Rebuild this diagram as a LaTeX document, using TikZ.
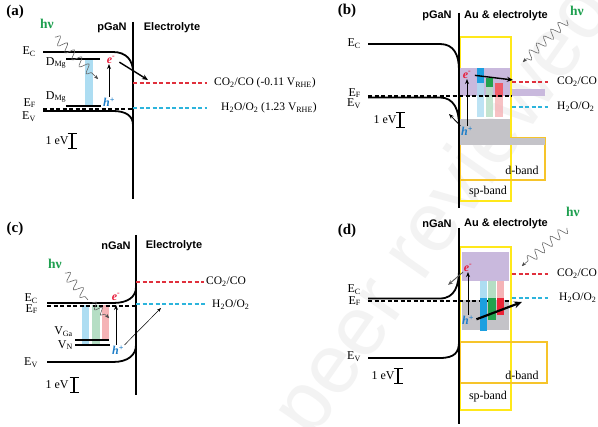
\documentclass[tikz,border=0pt]{standalone}
\usepackage{fontspec}
\setmainfont{Liberation Serif}
\setsansfont{Liberation Sans}
\usetikzlibrary{arrows.meta,decorations.pathmorphing}
\definecolor{redl}{HTML}{E0303C}
\definecolor{cyanl}{HTML}{2CB4DC}
\definecolor{ered}{HTML}{E81E3C}
\definecolor{hblue}{HTML}{1E7EC8}
\definecolor{hvgreen}{HTML}{1FA050}
\definecolor{pblue}{HTML}{ADDDF2}
\definecolor{pgreen}{HTML}{B5DEC4}
\definecolor{pred}{HTML}{F5B3B6}
\definecolor{sblue}{HTML}{1C9FE0}
\definecolor{sgreen}{HTML}{22A24E}
\definecolor{sred}{HTML}{EC2436}
\definecolor{purp}{HTML}{C9B9DD}
\definecolor{grayb}{HTML}{C4C3C8}
\definecolor{spyel}{HTML}{FFE81A}
\definecolor{dyel}{HTML}{F6C42A}
\definecolor{wm}{HTML}{F3F3F3}
\begin{document}
\begin{tikzpicture}[x=1pt,y=-1pt,
  band/.style={line width=1.8pt},
  iface/.style={line width=1.4pt},
  lvl/.style={line width=1.1pt},
  efdash/.style={line width=1.4pt, dash pattern=on 4pt off 2.5pt},
  redox/.style={line width=1.2pt, dash pattern=on 4pt off 2.5pt},
  lbl/.style={font=\fontsize{12}{13}\selectfont, inner sep=0pt},
  rdx/.style={font=\fontsize{11.5}{13}\selectfont, inner sep=0pt, anchor=west},
  ttl/.style={font=\sffamily\bfseries\fontsize{11}{13}\selectfont, inner sep=0pt},
  pnl/.style={font=\bfseries\fontsize{15}{16}\selectfont, inner sep=0pt},
  hv/.style={font=\bfseries\fontsize{13.5}{14}\selectfont, text=hvgreen, inner sep=0pt},
  elec/.style={font=\bfseries\itshape\fontsize{12}{13}\selectfont, text=ered, inner sep=0.5pt},
  hole/.style={font=\bfseries\itshape\fontsize{12}{13}\selectfont, text=hblue, inner sep=0.5pt},
  photon/.style={draw=black!60, line width=0.6pt, decorate, decoration={snake, amplitude=4.5pt, segment length=10pt, post length=4pt}},
  parr/.style={-{Stealth[length=4pt,width=3.5pt]}},
  arr/.style={-{Stealth[length=5pt,width=4pt]}, line width=1pt},
  midarr/.style={-{Stealth[length=6pt,width=5pt]}, line width=1.4pt},
  thickarr/.style={-{Stealth[length=8pt,width=7pt]}, line width=2.2pt},
  thinarr/.style={-{Stealth[length=4pt,width=3pt]}, line width=0.5pt},
  scalebar/.style={{Bar[width=9pt]}-{Bar[width=9pt]}, line width=1.3pt},
  spbox/.style={draw=spyel, line width=1.5pt},
  dbox/.style={draw=dyel, line width=1.5pt}
]
\useasboundingbox (0,0) rectangle (598,427);
\fill[white] (0,0) rectangle (598,427);
% watermark
\node[rotate=55, text=wm, font=\sffamily\fontsize{84}{86}\selectfont, inner sep=0pt] (wmk) at (446,212) {peer reviewed};

%================ (a) =================
\node[pnl] (pa) at (15,12) {(a)};
\node[hv] (hva) at (47,24) {hν};
\node[ttl] (tpa) at (112,28) {pGaN};
\node[ttl] (tea) at (172,28) {Electrolyte};
\fill[pblue] (85,59) rectangle (93,106);
\draw[lvl] (66,59) -- (100,59);
\draw[lvl] (66,106) -- (101,106);
\node[lbl] (dmg1) at (56,63) {D\textsubscript{Mg}};
\node[lbl] (dmg2) at (56,97) {D\textsubscript{Mg}};
\draw[band] (43,52) -- (113,52) .. controls (126,52) and (133,60) .. (133,72);
\draw[band] (43,111) -- (113,111) .. controls (126,111) and (133,116) .. (133,125);
\draw[efdash] (43,109) -- (133,109);
\draw[iface] (133,22) -- (133,199);
\draw[redox, redl] (133,83) -- (207,83);
\draw[redox, cyanl] (133,108) -- (207,108);
\node[rdx] (co2a) at (214,83) {CO\textsubscript{2}/CO (-0.11 V\textsubscript{RHE})};
\node[rdx] (h2oa) at (221,108) {H\textsubscript{2}O/O\textsubscript{2} (1.23 V\textsubscript{RHE})};
\node[lbl, anchor=east] (eca) at (36,52) {E\textsubscript{C}};
\node[lbl, anchor=east] (efa) at (36,103) {E\textsubscript{F}};
\node[lbl, anchor=east] (eva) at (36,117) {E\textsubscript{V}};
\node[elec] (ea) at (111,60) {e\textsuperscript{-}};
\node[hole] (ha) at (109,102) {h\textsuperscript{+}};
\draw[arr] (ha.north) -- (ha.north |- ea.south);
\coordinate (taa) at (148,80);
\draw[midarr, shorten <=4pt] (ea.east) -- (taa);
\coordinate (pha1) at (55,37);
\coordinate (pha2) at (98,79);
\draw[photon] (pha1) -- (pha2);
\draw[parr, draw=black!70] ([shift={(-1,-1)}]pha2) -- (pha2);
\node[lbl] (sca) at (57,141) {1 eV};
\draw[scalebar] (72,133) -- (72,149);

%================ (b) =================
\node[pnl] (pb) at (347,11) {(b)};
\node[hv] (hvb) at (577,11) {hν};
\node[ttl] (tpb) at (437,16) {pGaN};
\node[ttl] (teb) at (506,16) {Au \& electrolyte};
\draw[spbox] (460,37) rectangle (511,201);
\draw[dbox] (460,138) rectangle (545,180);
\fill[purp] (460,68) rectangle (510,96);
\fill[purp] (512,89) rectangle (545,96);
\fill[grayb] (460,119) rectangle (510,145);
\fill[grayb] (460,138) rectangle (545,145);
\fill[pblue, opacity=0.8] (477,83) rectangle (484,117);
\fill[sblue] (477,68) rectangle (484,83);
\fill[pgreen, opacity=0.8] (486,87) rectangle (493,117);
\fill[sgreen] (486,78) rectangle (493,87);
\fill[pred, opacity=0.8] (495,97) rectangle (503,117);
\fill[sred!60!pred] (495,83) rectangle (503,97);
\node[lbl] (dbb) at (522,170) {d-band};
\node[lbl] (spb) at (488,192) {sp-band};
\draw[band] (368,44) -- (440,44) .. controls (454,44) and (459,55) .. (459,70);
\draw[band] (368,97.5) -- (440,97.5) .. controls (454,97.5) and (459,110) .. (459,125);
\draw[efdash] (368,96) -- (512,96);
\draw[iface] (459,13) -- (459,208);
\draw[redox, redl] (512,82) -- (548,82);
\draw[redox, cyanl] (512,107) -- (548,107);
\node[rdx] (co2b) at (557,82) {CO\textsubscript{2}/CO};
\node[rdx] (h2ob) at (557,107) {H\textsubscript{2}O/O\textsubscript{2}};
\node[lbl, anchor=east] (ecb) at (361,44) {E\textsubscript{C}};
\node[lbl, anchor=east] (efb) at (361,93) {E\textsubscript{F}};
\node[lbl, anchor=east] (evb) at (361,104) {E\textsubscript{V}};
\node[elec] (eb) at (467,75) {e\textsuperscript{-}};
\node[hole] (hb) at (467,131) {h\textsuperscript{+}};
\draw[arr] (hb.north) -- (hb.north |- eb.south);
\coordinate (tbb) at (513,80);
\draw[midarr, shorten <=3pt] (eb.east) -- (tbb);
\coordinate (tbh) at (449,114);
\draw[arr, line width=0.8pt] (hb.north west) -- (tbh);
\coordinate (phb1) at (567,20);
\coordinate (phb2) at (523,62);
\draw[photon] (phb1) -- (phb2);
\draw[parr, draw=black!70] ([shift={(1,-1)}]phb2) -- (phb2);
\node[lbl] (scb) at (385,120) {1 eV};
\draw[scalebar] (400,112) -- (400,128);

%================ (c) =================
\node[pnl] (pc) at (15,229) {(c)};
\node[hv] (hvc) at (55,264) {hν};
\node[ttl] (tnc) at (116,246) {nGaN};
\node[ttl] (tec) at (174,246) {Electrolyte};
\fill[pblue] (82,305) rectangle (89,345);
\fill[pgreen] (92,305) rectangle (100,345);
\fill[pred] (102,305) rectangle (109,340);
\draw[lvl] (75,340) -- (109,340);
\draw[lvl] (75,345) -- (110,345);
\node[lbl, anchor=east] (vga) at (73,332) {V\textsubscript{Ga}};
\node[lbl, anchor=east] (vn) at (73,345) {V\textsubscript{N}};
\draw[band] (47,303) -- (113,303) .. controls (128,303) and (136,297) .. (136,287);
\draw[band] (47,362) -- (113,362) .. controls (128,362) and (136,355) .. (136,345);
\draw[efdash] (47,306) -- (136,306);
\draw[iface] (136,235) -- (136,395);
\draw[redox, redl] (136,282) -- (204,282);
\draw[redox, cyanl] (136,304) -- (205,304);
\node[rdx] (co2c) at (206,282) {CO\textsubscript{2}/CO};
\node[rdx] (h2oc) at (212,305) {H\textsubscript{2}O/O\textsubscript{2}};
\node[lbl, anchor=east] (ecc) at (38,299) {E\textsubscript{C}};
\node[lbl, anchor=east] (efc) at (38,309) {E\textsubscript{F}};
\node[lbl, anchor=east] (evc) at (38,363) {E\textsubscript{V}};
\node[elec] (ec) at (116,297) {e\textsuperscript{-}};
\node[hole] (hc) at (118,350) {h\textsuperscript{+}};
\coordinate (tcv) at (116,305);
\draw[arr] (hc.north -| tcv) -- (tcv);
\coordinate (tch) at (161,308);
\draw[thinarr] (hc.north east) -- (tch);
\coordinate (phc1) at (65,273);
\coordinate (phc2) at (88,300);
\draw[photon] (phc1) -- (phc2);
\coordinate (phc3) at (92,303);
\coordinate (phc4) at (109,318);
\draw[photon, decoration={snake, amplitude=3.5pt, segment length=8pt, post length=3pt}] (phc3) -- (phc4);
\draw[parr, draw=black!70] ([shift={(-1,-1)}]phc4) -- (phc4);
\node[lbl] (scc) at (57,385) {1 eV};
\draw[scalebar] (74,377) -- (74,393);

%================ (d) =================
\node[pnl] (pd) at (347,231) {(d)};
\node[hv] (hvd) at (573,212) {hν};
\node[ttl] (tnd) at (437,224) {nGaN};
\node[ttl] (ted) at (506,224) {Au \& electrolyte};
\draw[spbox] (460,247) rectangle (511,410);
\draw[dbox] (460,342) rectangle (547,383);
\fill[purp] (462,252) rectangle (509,281);
\fill[grayb] (462,300) rectangle (509,330);
\draw[efdash] (368,301) -- (510,301);
\fill[pblue] (480,281) rectangle (487,298);
\fill[sblue] (480,298) rectangle (487,331);
\fill[pgreen] (488,281) rectangle (496,298);
\fill[sgreen] (488,298) rectangle (496,320);
\fill[pred] (497,281) rectangle (504,298);
\fill[sred] (497,298) rectangle (504,315);
\node[lbl] (dbd) at (522,375) {d-band};
\node[lbl] (spd) at (488,397) {sp-band};
\draw[band] (368,298.5) -- (440,298.5) .. controls (455,298.5) and (459,285) .. (459,270);
\draw[band] (368,358) -- (440,358) .. controls (455,358) and (459,352) .. (459,342);
\draw[iface] (459,228) -- (459,424);
\draw[redox, redl] (512,274) -- (548,274);
\draw[redox, cyanl] (512,298) -- (548,298);
\node[rdx] (co2d) at (557,274) {CO\textsubscript{2}/CO};
\node[rdx] (h2od) at (559,298) {H\textsubscript{2}O/O\textsubscript{2}};
\node[lbl, anchor=east] (ecd) at (361,290) {E\textsubscript{C}};
\node[lbl, anchor=east] (efd) at (361,301) {E\textsubscript{F}};
\node[lbl, anchor=east] (evd) at (361,357) {E\textsubscript{V}};
\node[elec] (ed) at (468,268) {e\textsuperscript{-}};
\node[hole] (hd) at (468,320) {h\textsuperscript{+}};
\draw[arr] (hd.north) -- (hd.north |- ed.south);
\coordinate (tde) at (448,285);
\draw[arr, draw=black!65, line width=0.9pt] (ed.south west) -- (tde);
\coordinate (tdh) at (522,302);
\draw[thickarr, shorten <=2pt] (hd.east) -- (tdh);
\coordinate (phd1) at (567,228);
\coordinate (phd2) at (522,266);
\draw[photon] (phd1) -- (phd2);
\draw[parr, draw=black!70] ([shift={(1,-1)}]phd2) -- (phd2);
\node[lbl] (scd) at (383,376) {1 eV};
\draw[scalebar] (398,368) -- (398,384);
\end{tikzpicture}
\end{document}
